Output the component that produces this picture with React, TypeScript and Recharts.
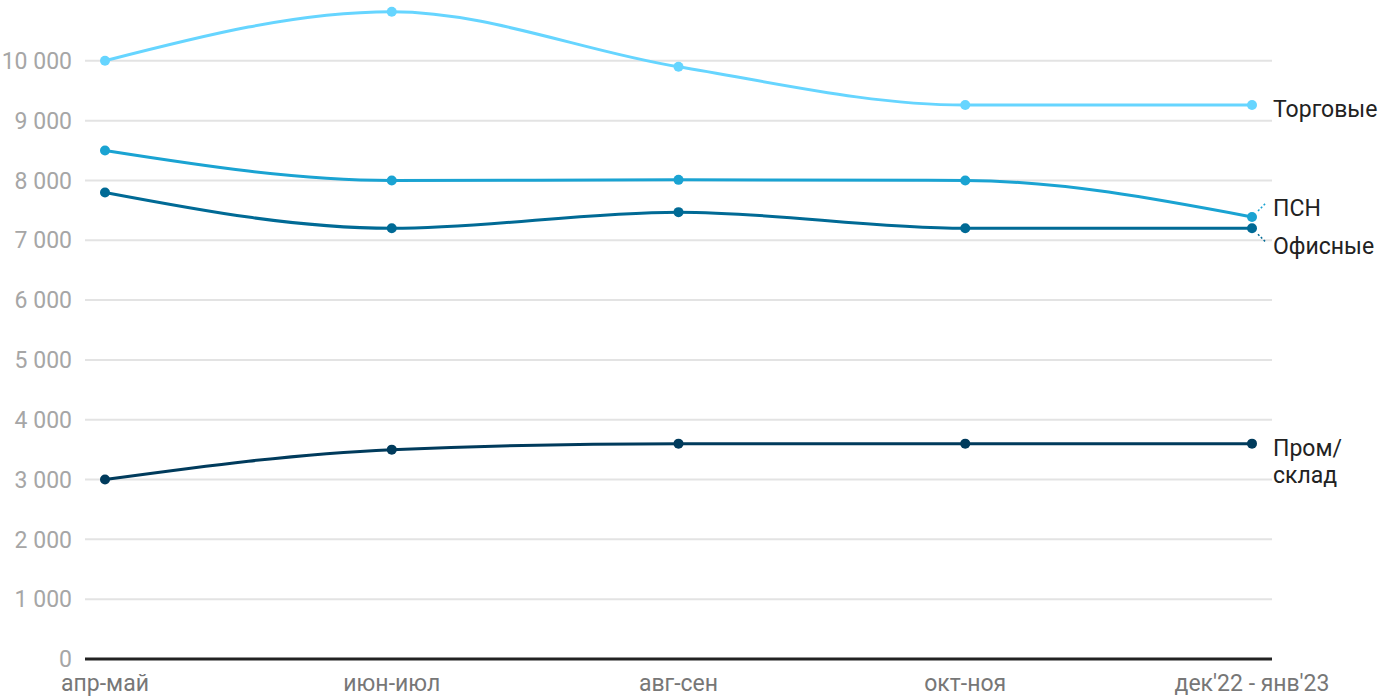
import { LineChart, Line, XAxis, YAxis, CartesianGrid, LabelList } from "recharts";

const categories = ["апр-май", "июн-июл", "авг-сен", "окт-ноя", "дек'22 - янв'23"];
const torgovye = [10000, 10820, 9900, 9260, 9260];
const psn = [8500, 8000, 8010, 8000, 7390];
const ofisnye = [7800, 7200, 7470, 7200, 7200];
const prom = [3000, 3500, 3600, 3600, 3600];
const yTicks = [0, 1000, 2000, 3000, 4000, 5000, 6000, 7000, 8000, 9000, 10000];

const data = categories.map((name, i) => ({
  name,
  torgovye: torgovye[i],
  psn: psn[i],
  ofisnye: ofisnye[i],
  prom: prom[i],
}));

const colors = {
  torgovye: "#66d5ff",
  psn: "#1aa3d2",
  ofisnye: "#006a95",
  prom: "#003b5c",
};

const last = categories.length - 1;

// end-of-line labels, only on the last point
const endLabel =
  (lines: string[], dy: number, color: string, leader?: "up" | "down") =>
  (props: any) => {
    const { x, y, index } = props;
    if (index !== last) return null;
    return (
      <g>
        {leader === "up" && (
          <line x1={x + 6} y1={y - 6} x2={x + 14} y2={y - 14} stroke={color} strokeWidth={1.5} strokeDasharray="2 2" />
        )}
        {leader === "down" && (
          <line x1={x + 6} y1={y + 6} x2={x + 14} y2={y + 14} stroke={color} strokeWidth={1.5} strokeDasharray="2 2" />
        )}
        <text x={x + 21} y={y + dy} fill="#222" fontSize={23}>
          {lines.map((t, k) => (
            <tspan key={k} x={x + 21} dy={k === 0 ? 0 : 27}>
              {t}
            </tspan>
          ))}
        </text>
      </g>
    );
  };

const fmt = (v: number) => String(v).replace(/\B(?=(\d{3})+(?!\d))/g, " ");

export default function App() {
  return (
    <div style={{ position: "absolute", left: 0, top: 0, fontFamily: "Roboto" }}>
      <LineChart width={1400} height={700} data={data} margin={{ top: 1, right: 128, bottom: 0, left: 0 }}>
        <CartesianGrid vertical={false} horizontalValues={yTicks.slice(1)} stroke="#e3e3e3" strokeWidth={2} />
        <XAxis
          dataKey="name"
          interval={0}
          padding={{ left: 20, right: 20 }}
          height={41}
          tickLine={false}
          tickMargin={10}
          tick={{ fill: "#777", fontSize: 23 }}
          axisLine={{ stroke: "#222", strokeWidth: 3 }}
        />
        <YAxis
          domain={[0, 11000]}
          ticks={yTicks}
          width={85}
          tickLine={false}
          axisLine={false}
          tickMargin={7}
          tick={{ fill: "#a6a6a6", fontSize: 23 }}
          tickFormatter={fmt}
        />
        <Line type="monotoneX" dataKey="torgovye" stroke={colors.torgovye} strokeWidth={3} dot={{ r: 5, fill: colors.torgovye, stroke: "none" }} isAnimationActive={false}>
          <LabelList dataKey="torgovye" content={endLabel(["Торговые"], 12, colors.torgovye)} />
        </Line>
        <Line type="monotoneX" dataKey="psn" stroke={colors.psn} strokeWidth={3} dot={{ r: 5, fill: colors.psn, stroke: "none" }} isAnimationActive={false}>
          <LabelList dataKey="psn" content={endLabel(["ПСН"], -1, colors.psn, "up")} />
        </Line>
        <Line type="monotoneX" dataKey="ofisnye" stroke={colors.ofisnye} strokeWidth={3} dot={{ r: 5, fill: colors.ofisnye, stroke: "none" }} isAnimationActive={false}>
          <LabelList dataKey="ofisnye" content={endLabel(["Офисные"], 26, colors.ofisnye, "down")} />
        </Line>
        <Line type="monotoneX" dataKey="prom" stroke={colors.prom} strokeWidth={3} dot={{ r: 5, fill: colors.prom, stroke: "none" }} isAnimationActive={false}>
          <LabelList dataKey="prom" content={endLabel(["Пром/", "склад"], 12, colors.prom)} />
        </Line>
      </LineChart>
    </div>
  );
}
